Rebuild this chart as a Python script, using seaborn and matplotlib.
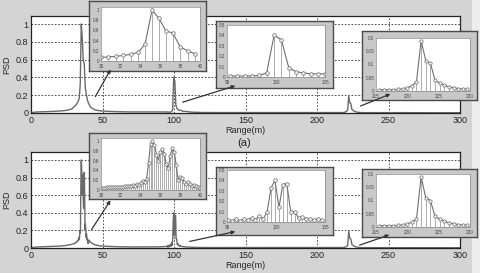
import numpy as np
import pandas as pd
import seaborn as sns
import matplotlib.pyplot as plt
from matplotlib.patches import FancyArrowPatch, Rectangle
from matplotlib.ticker import FuncFormatter

# ---- data ----
# (a) top panel, zoomed windows
top_win1_range = [30.0, 30.75, 31.5, 32.25, 33.0, 33.75, 34.45, 35.15, 35.85, 36.55, 37.25, 38.0, 38.75, 39.5]
top_win1_psd = [0.07, 0.08, 0.09, 0.11, 0.13, 0.17, 0.33, 1.0, 0.84, 0.59, 0.55, 0.28, 0.20, 0.14]

top_win2_range = [95.3, 96.05, 96.8, 97.55, 98.3, 99.05, 99.8, 100.55, 101.3, 102.05, 102.8, 103.55, 104.3, 105.0]
top_win2_psd = [0.01, 0.01, 0.01, 0.01, 0.016, 0.04, 0.40, 0.36, 0.09, 0.05, 0.04, 0.03, 0.03, 0.03]

top_win3_range = [215.54, 216.28, 217.02, 217.76, 218.5, 219.24, 219.98, 220.72, 221.46, 222.2,
                  222.94, 223.68, 224.42, 225.16, 225.9, 226.64, 227.38, 228.12, 228.86, 229.6]
top_win3_psd = [0.005, 0.005, 0.005, 0.005, 0.006, 0.008, 0.012, 0.02, 0.035, 0.19,
                0.115, 0.105, 0.04, 0.03, 0.022, 0.016, 0.012, 0.009, 0.007, 0.006]

# top panel, the rest of the range
top_base_range = [0, 1, 3, 5, 10, 15, 20, 24, 27, 29,
                  40.5, 41.5, 43, 45, 48, 52, 60, 70, 80, 88, 92, 94.5,
                  106, 108, 112, 115, 120, 130, 150, 170, 190, 205, 212,
                  232, 240, 260, 280, 300]
top_base_psd = [0.0, 0.006, 0.01, 0.012, 0.015, 0.018, 0.022, 0.028, 0.038, 0.05,
                0.10, 0.07, 0.05, 0.035, 0.025, 0.02, 0.015, 0.012, 0.012, 0.012, 0.012, 0.012,
                0.02, 0.018, 0.01, 0.008, 0.006, 0.005, 0.005, 0.005, 0.005, 0.005, 0.005,
                0.004, 0.004, 0.004, 0.003, 0.003]

# bottom panel, zoomed windows
bot_win1_range = [30.0, 30.2, 30.4, 30.6, 30.8, 31.0, 31.2, 31.4, 31.6, 31.8,
                  32.0, 32.2, 32.4, 32.6, 32.8, 33.0, 33.2, 33.4, 33.6, 33.8,
                  34.0, 34.2, 34.4, 34.6, 34.8, 35.0, 35.2, 35.4, 35.6, 35.8,
                  36.0, 36.2, 36.4, 36.6, 36.8, 37.0, 37.2, 37.4, 37.6, 37.8,
                  38.0, 38.2, 38.4, 38.6, 38.8, 39.0, 39.2, 39.4, 39.6, 39.8, 40.0]
bot_win1_psd = [0.05, 0.05, 0.05, 0.055, 0.055, 0.06, 0.06, 0.06, 0.065, 0.065,
                0.07, 0.07, 0.075, 0.08, 0.08, 0.09, 0.10, 0.09, 0.12, 0.10,
                0.14, 0.19, 0.17, 0.22, 0.55, 0.93, 1.0, 0.92, 0.72, 0.60,
                0.78, 0.83, 0.74, 0.52, 0.45, 0.70, 0.86, 0.78, 0.50, 0.20,
                0.27, 0.24, 0.16, 0.12, 0.16, 0.13, 0.09, 0.11, 0.08, 0.06, 0.05]

bot_win2_range = [95.1, 95.5, 95.9, 96.3, 96.7, 97.1, 97.5, 97.9, 98.3, 98.7,
                  99.1, 99.5, 99.9, 100.3, 100.7, 101.1, 101.5, 101.9, 102.3, 102.7,
                  103.1, 103.5, 103.9, 104.3, 104.7]
bot_win2_psd = [0.02, 0.01, 0.03, 0.01, 0.03, 0.02, 0.04, 0.02, 0.06, 0.03,
                0.10, 0.33, 0.40, 0.14, 0.36, 0.37, 0.10, 0.10, 0.04, 0.05,
                0.03, 0.03, 0.02, 0.03, 0.02]

bot_win3_range = top_win3_range
bot_win3_psd = [0.005, 0.005, 0.005, 0.005, 0.006, 0.008, 0.012, 0.018, 0.03, 0.19,
                0.11, 0.10, 0.04, 0.03, 0.022, 0.016, 0.012, 0.009, 0.007, 0.006]

bot_base_range = [0, 1, 3, 5, 10, 15, 20, 24, 27, 29,
                  40.5, 41.5, 43, 45, 48, 52, 60, 70, 80, 88, 92, 94.5,
                  105.5, 107, 110, 113, 118, 125, 150, 170, 190, 205, 212,
                  232, 240, 260, 280, 300]
bot_base_psd = [0.0, 0.006, 0.01, 0.012, 0.015, 0.018, 0.022, 0.028, 0.036, 0.045,
                0.09, 0.065, 0.05, 0.035, 0.025, 0.02, 0.015, 0.012, 0.012, 0.013, 0.015, 0.018,
                0.018, 0.014, 0.01, 0.008, 0.006, 0.005, 0.005, 0.005, 0.005, 0.005, 0.005,
                0.004, 0.004, 0.004, 0.003, 0.003]


def full_curve(base_x, base_y, windows):
    xs = list(base_x)
    ys = list(base_y)
    for wx, wy in windows:
        xs += list(wx)
        ys += list(wy)
    d = pd.DataFrame({'range': xs, 'psd': ys})
    return d.sort_values('range').reset_index(drop=True)


top_curve = full_curve(top_base_range, top_base_psd,
                       [(top_win1_range, top_win1_psd), (top_win2_range, top_win2_psd), (top_win3_range, top_win3_psd)])
bot_curve = full_curve(bot_base_range, bot_base_psd,
                       [(bot_win1_range, bot_win1_psd), (bot_win2_range, bot_win2_psd), (bot_win3_range, bot_win3_psd)])

# ---- style ----
sns.set_style('white')
plt.rcParams['font.family'] = ['Liberation Sans', 'DejaVu Sans']
plt.rcParams['xtick.direction'] = 'in'
plt.rcParams['ytick.direction'] = 'in'

W, H = 481, 273
BG = '#d4d4d4'
LINE = '#6a6a6a'


def box(x0, y0, x1, y1):
    # pixel box -> figure fraction
    return [x0 / W, 1 - y1 / H, (x1 - x0) / W, (y1 - y0) / H]


def fmt_g(v, pos):
    return '%g' % v


fig = plt.figure(figsize=(W / 100, H / 100), dpi=100, facecolor=BG)
fig.add_artist(Rectangle((472 / W, 0), 9 / W, 1, transform=fig.transFigure,
                         facecolor='#ececec', edgecolor='none', zorder=0))


def main_panel(rect, curve):
    ax = fig.add_axes(box(*rect))
    ax.set_zorder(1)
    sns.lineplot(data=curve, x='range', y='psd', ax=ax, color=LINE, lw=1.0,
                 estimator=None, sort=False)
    ax.set_xlim(0, 300)
    ax.set_ylim(0, 1.09)
    ax.set_xticks([0, 50, 100, 150, 200, 250, 300])
    ax.set_yticks([0, 0.2, 0.4, 0.6, 0.8, 1.0])
    ax.yaxis.set_major_formatter(FuncFormatter(fmt_g))
    ax.tick_params(labelsize=6.5, length=2, pad=2, colors='#222222')
    ax.grid(True, color='#333333', linestyle=(0, (2, 2)), lw=0.6)
    for s in ax.spines.values():
        s.set_color('#222222')
        s.set_linewidth(0.9)
    ax.set_xlabel('Range(m)', fontsize=6.5, labelpad=1)
    ax.set_ylabel('PSD', fontsize=6.5, labelpad=3)
    ax.set_facecolor('white')
    return ax


ax_top = main_panel((31, 16, 460, 113), top_curve)
ax_bot = main_panel((31, 152, 460, 248), bot_curve)

fig.text(244 / W, 1 - 143 / H, '(a)', fontsize=8, ha='center', va='center', color='#222222')


def inset(frame, inner, wx, wy, xlim, ylim, xticks, yticks, ms):
    fr = fig.add_axes(box(*frame))
    fr.set_zorder(2)
    fr.set_facecolor('#c8c8c8')
    fr.set_xticks([])
    fr.set_yticks([])
    for s in fr.spines.values():
        s.set_color('#4a4a4a')
        s.set_linewidth(1.0)
    ax = fig.add_axes(box(*inner))
    ax.set_zorder(3)
    ax.set_facecolor('white')
    ax.vlines(wx, 0, wy, color='#8a8a8a', lw=0.5)
    d = pd.DataFrame({'range': wx, 'psd': wy})
    sns.lineplot(data=d, x='range', y='psd', ax=ax, color='#707070', lw=0.8,
                 estimator=None, sort=False, marker='o', markersize=ms,
                 markerfacecolor='#f2f2f2', markeredgecolor='#6a6a6a', markeredgewidth=0.5)
    ax.set_xlim(*xlim)
    ax.set_ylim(*ylim)
    ax.set_xticks(xticks)
    ax.set_yticks(yticks)
    ax.xaxis.set_major_formatter(FuncFormatter(fmt_g))
    ax.yaxis.set_major_formatter(FuncFormatter(fmt_g))
    ax.tick_params(labelsize=3.3, length=1.2, colors='#444444', width=0.4)
    ax.tick_params(axis='x', pad=2)
    ax.tick_params(axis='y', pad=1)
    ax.set_xlabel('')
    ax.set_ylabel('')
    for s in ax.spines.values():
        s.set_color('#888888')
        s.set_linewidth(0.5)
    return ax


inset((89, 1, 206, 71), (101, 7, 200, 61), top_win1_range, top_win1_psd,
      (30, 40), (0, 1.06), [30, 32, 34, 36, 38, 40], [0, 0.2, 0.4, 0.6, 0.8, 1], 2.6)
inset((216, 21, 333, 88), (227, 25, 325, 77), top_win2_range, top_win2_psd,
      (95, 105), (0, 0.5), [95, 100, 105], [0, 0.1, 0.2, 0.3, 0.4, 0.5], 2.6)
inset((362, 31, 477, 100), (376, 38, 470, 91), top_win3_range, top_win3_psd,
      (215, 230), (0, 0.2), [215, 220, 225, 230], [0, 0.05, 0.1, 0.15, 0.2], 2.4)
inset((89, 133, 206, 199), (101, 138, 200, 190), bot_win1_range, bot_win1_psd,
      (30, 40), (0, 1.06), [30, 32, 34, 36, 38, 40], [0, 0.2, 0.4, 0.6, 0.8, 1], 2.4)
inset((216, 167, 333, 235), (227, 170, 325, 222), bot_win2_range, bot_win2_psd,
      (95, 105), (0, 0.5), [95, 100, 105], [0, 0.1, 0.2, 0.3, 0.4, 0.5], 2.6)
inset((362, 169, 477, 237), (376, 174, 470, 227), bot_win3_range, bot_win3_psd,
      (215, 230), (0, 0.2), [215, 220, 225, 230], [0, 0.05, 0.1, 0.15, 0.2], 2.4)

# arrows from the peaks to their zoomed windows (pixel coords)
arrows = [((94, 99), (112, 67)), ((180, 103), (238, 85)), ((358, 107), (393, 93)),
          ((90, 232), (112, 198)), ((187, 242), (238, 231)), ((357, 246), (392, 234))]
for (xa, ya), (xb, yb) in arrows:
    fig.add_artist(FancyArrowPatch((xa / W, 1 - ya / H), (xb / W, 1 - yb / H),
                                   transform=fig.transFigure, arrowstyle='-|>',
                                   mutation_scale=5, lw=0.9, color='#333333', zorder=5))

plt.savefig('out.png', dpi=100, facecolor=BG)
